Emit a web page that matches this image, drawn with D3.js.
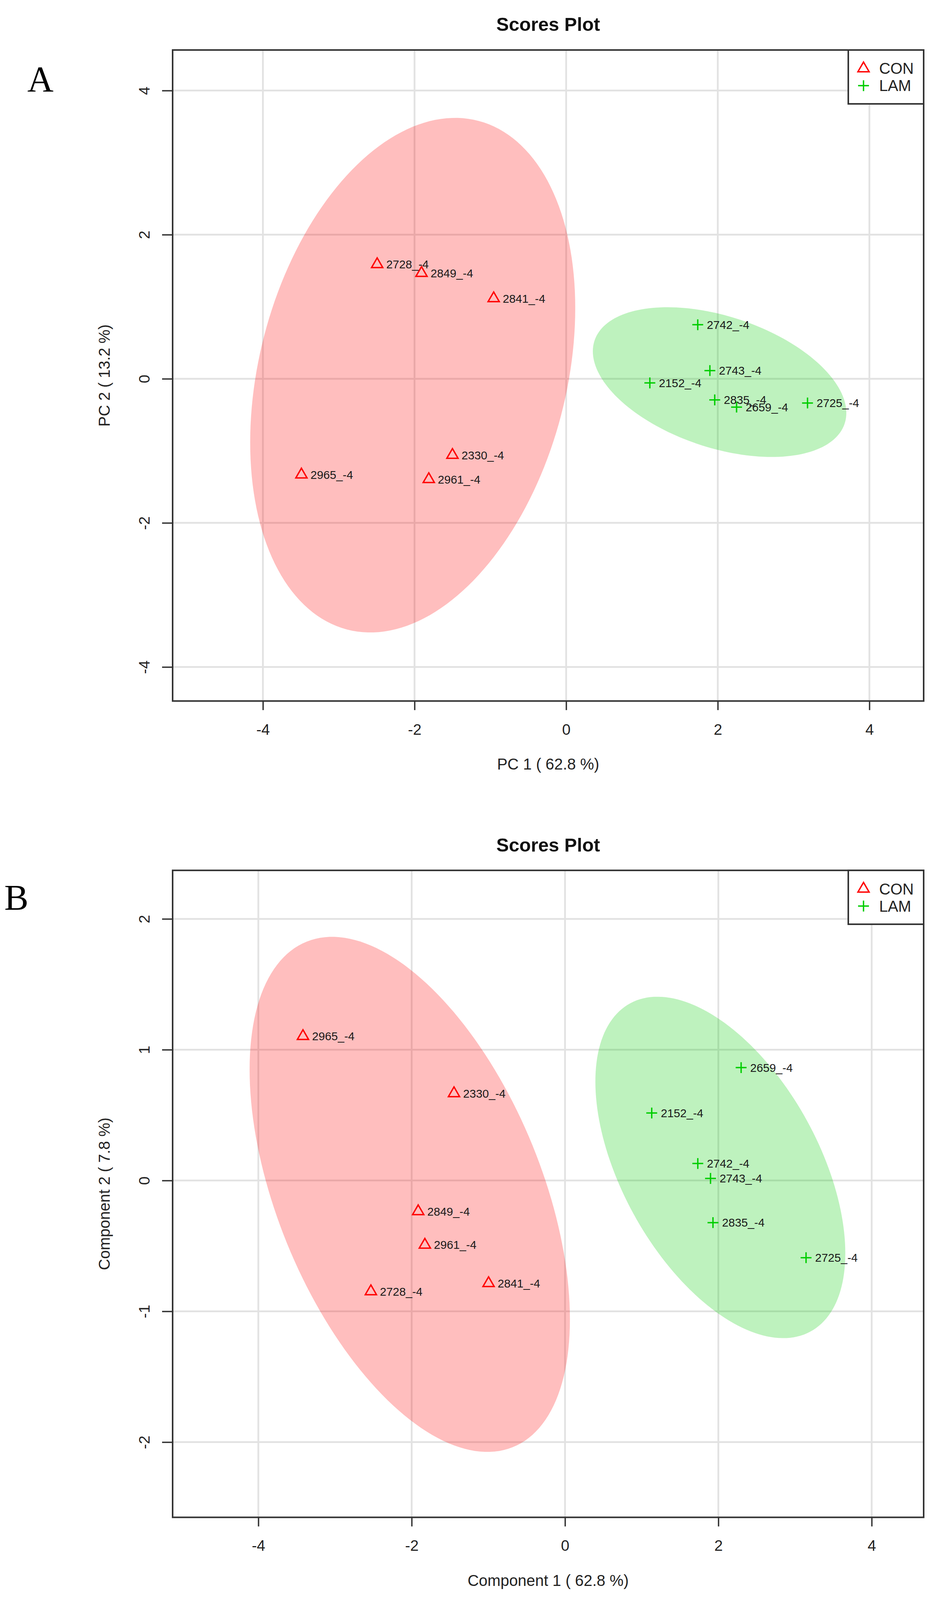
<!DOCTYPE html>
<html>
<head>
<meta charset="utf-8">
<script src="https://cdn.jsdelivr.net/npm/d3@7"></script>
<style>
  html, body { margin: 0; padding: 0; background: #fff; overflow: hidden; }
  svg { display: block; }
  text { font-family: "Liberation Sans", Arial, Helvetica, sans-serif; }
</style>
</head>
<body>
<svg id="chart"></svg>
<script>
// ---------------- DATA ----------------
const groups = ["CON", "LAM"];
const conLabels = ["2728_-4", "2849_-4", "2841_-4", "2330_-4", "2965_-4", "2961_-4"];
const lamLabels = ["2742_-4", "2743_-4", "2152_-4", "2835_-4", "2659_-4", "2725_-4"];

// Panel A: PCA scores
const pcaConX = [-2.493, -1.908, -0.956, -1.500, -3.492, -1.812];
const pcaConY = [1.588, 1.466, 1.115, -1.059, -1.331, -1.395];
const pcaLamX = [1.736, 1.896, 1.104, 1.960, 2.248, 3.184];
const pcaLamY = [0.750, 0.114, -0.057, -0.293, -0.393, -0.336];
// ellipse: [centerX, centerY, sdX, sdY, correlation]
const pcaConEllipse = [-2.024, 0.05, 2.144, 3.571, 0.261];
const pcaLamEllipse = [2.024, -0.046, 1.672, 1.039, -0.4116];

// Panel B: PLS-DA scores
const plsConX = [-2.532, -1.915, -0.997, -1.448, -3.418, -1.828];
const plsConY = [-0.848, -0.236, -0.786, 0.666, 1.103, -0.492];
const plsLamX = [1.732, 1.898, 1.131, 1.930, 2.297, 3.144];
const plsLamY = [0.130, 0.016, 0.516, -0.322, 0.863, -0.590];
const plsConEllipse = [-2.025, -0.106, 2.089, 1.969, -0.4848];
const plsLamEllipse = [2.026, 0.100, 1.630, 1.305, -0.503];

// Axes
const pcaXDomain = [-5.191, 4.716];
const pcaYDomain = [-4.472, 4.563];
const plsXDomain = [-5.118, 4.678];
const plsYDomain = [-2.575, 2.371];
const xTicks = [-4, -2, 0, 2, 4];
const pcaYTicks = [-4, -2, 0, 2, 4];
const plsYTicks = [-2, -1, 0, 1, 2];

// ---------------- LAYOUT (fit the 2435x4752 design into the actual viewport) ----------------
const W = window.innerWidth || 2435;
const H = window.innerHeight || 4752;
const SX = W / 2435, SY = H / 4752;
const FS = Math.sqrt(SX * SY);
const px = v => v * SX, py = v => v * SY, fs = v => v * FS;

// ---------------- STYLE ----------------
const colors = { CON: "#FF0000", LAM: "#00CD00" };
const fills = { CON: "rgba(255,0,0,0.255)", LAM: "rgba(0,205,0,0.255)" };
const axisColor = "#333333";
const gridColor = "#e2e2e2";

const svg = d3.select("#chart").attr("width", W).attr("height", H);
svg.append("rect").attr("width", W).attr("height", H).attr("fill", "#fff");

function trianglePath(R) {
  const top = 1.5551 * R, half = 1.3468 * R, bot = 0.7776 * R;
  return `M0,${-top}L${half},${bot}L${-half},${bot}Z`;
}
function plusPath(h) {
  return `M${-h},0L${h},0M0,${-h}L0,${h}`;
}
function ellipsePoints(e) {
  const [cx, cy, sx, sy, rho] = e;
  const k = Math.sqrt(1 - rho * rho);
  return d3.range(0, 361, 2).map(deg => {
    const t = deg * Math.PI / 180;
    return [cx + sx * Math.cos(t), cy + sy * (rho * Math.cos(t) + k * Math.sin(t))];
  });
}
const fmt = d => String(d);

function drawPanel(cfg) {
  const left = px(cfg.box.left), right = px(cfg.box.right);
  const top = py(cfg.box.top), bottom = py(cfg.box.bottom);
  const x = d3.scaleLinear().domain(cfg.xDomain).range([left, right]);
  const y = d3.scaleLinear().domain(cfg.yDomain).range([bottom, top]);
  const g = svg.append("g");

  // panel letter
  g.append("text")
    .attr("x", px(cfg.letterX)).attr("y", py(cfg.letterBaseline))
    .attr("font-size", fs(100)).attr("fill", "#000")
    .style("font-family", "'Liberation Serif', 'Times New Roman', serif")
    .text(cfg.letter);

  // title
  g.append("text")
    .attr("x", (left + right) / 2).attr("y", top - py(76))
    .attr("text-anchor", "middle").attr("dominant-baseline", "central")
    .attr("font-size", fs(52)).attr("font-weight", "bold").attr("fill", "#111")
    .text("Scores Plot");

  // grid
  const grid = g.append("g");
  grid.selectAll("line.gx").data(cfg.xTicks).join("line")
    .attr("x1", d => x(d)).attr("x2", d => x(d))
    .attr("y1", top).attr("y2", bottom)
    .attr("stroke", gridColor).attr("stroke-width", 4.5);
  grid.selectAll("line.gy").data(cfg.yTicks).join("line")
    .attr("x1", left).attr("x2", right)
    .attr("y1", d => y(d)).attr("y2", d => y(d))
    .attr("stroke", gridColor).attr("stroke-width", 4.5);

  // confidence ellipses
  const line = d3.line().x(d => x(d[0])).y(d => y(d[1])).curve(d3.curveLinearClosed);
  cfg.groups.forEach(gr => {
    g.append("path").attr("d", line(ellipsePoints(gr.ellipse)))
      .attr("fill", fills[gr.name]).attr("stroke", "none");
  });

  // points and sample labels
  cfg.groups.forEach(gr => {
    const pts = gr.labels.map((lab, i) => ({ lab, x: gr.xs[i], y: gr.ys[i] }));
    const pg = g.append("g");
    pg.selectAll("path").data(pts).join("path")
      .attr("transform", d => `translate(${x(d.x)},${y(d.y)})`)
      .attr("d", gr.name === "CON" ? trianglePath(fs(11.5)) : plusPath(fs(15)))
      .attr("fill", "none").attr("stroke", colors[gr.name])
      .attr("stroke-width", 3.5);
    pg.selectAll("text").data(pts).join("text")
      .attr("x", d => x(d.x) + fs(25)).attr("y", d => y(d.y))
      .attr("dominant-baseline", "central")
      .attr("font-size", fs(32)).attr("fill", "#1a1a1a")
      .text(d => d.lab);
  });

  // axes
  const xAxis = g.append("g").attr("transform", `translate(0,${bottom})`)
    .call(d3.axisBottom(x).tickValues(cfg.xTicks).tickSize(py(27)).tickSizeOuter(0).tickFormat(fmt));
  xAxis.select(".domain").remove();
  xAxis.selectAll(".tick line").attr("stroke", axisColor).attr("stroke-width", 3.5);
  xAxis.selectAll(".tick text").attr("y", py(84)).attr("dy", "0.35em")
    .attr("font-size", fs(42)).attr("fill", "#222")
    .style("font-family", "'Liberation Sans', Arial, sans-serif");

  const yAxis = g.append("g").attr("transform", `translate(${left},0)`)
    .call(d3.axisLeft(y).tickValues(cfg.yTicks).tickSize(px(27)).tickSizeOuter(0).tickFormat(fmt));
  yAxis.select(".domain").remove();
  yAxis.selectAll(".tick line").attr("stroke", axisColor).attr("stroke-width", 3.5);
  yAxis.selectAll(".tick text")
    .attr("x", 0).attr("y", 0).attr("dy", "0.35em")
    .attr("text-anchor", "middle")
    .attr("transform", `translate(${-px(72.5)},0) rotate(-90)`)
    .attr("font-size", fs(42)).attr("fill", "#222")
    .style("font-family", "'Liberation Sans', Arial, sans-serif");

  // axis titles
  g.append("text")
    .attr("x", (left + right) / 2).attr("y", bottom + py(187))
    .attr("text-anchor", "middle").attr("dominant-baseline", "central")
    .attr("font-size", fs(43)).attr("fill", "#222")
    .text(cfg.xTitle);
  g.append("text")
    .attr("transform", `translate(${left - px(175)},${(top + bottom) / 2}) rotate(-90)`)
    .attr("text-anchor", "middle").attr("dominant-baseline", "central")
    .attr("font-size", fs(43)).attr("fill", "#222")
    .text(cfg.yTitle);

  // plot frame
  g.append("rect")
    .attr("x", left).attr("y", top)
    .attr("width", right - left).attr("height", bottom - top)
    .attr("fill", "none").attr("stroke", axisColor).attr("stroke-width", 4);

  // legend (top-right, inside)
  const lw = px(193), lh = py(160);
  const lx = right - lw, ly = top;
  const lg = g.append("g");
  lg.append("rect").attr("x", lx).attr("y", ly).attr("width", lw).attr("height", lh)
    .attr("fill", "#fff").attr("stroke", axisColor).attr("stroke-width", 4);
  groups.forEach((name, i) => {
    const cy = ly + py(55 + i * 51);
    lg.append("path")
      .attr("transform", `translate(${lx + px(39)},${cy})`)
      .attr("d", name === "CON" ? trianglePath(fs(11.5)) : plusPath(fs(15)))
      .attr("fill", "none").attr("stroke", colors[name]).attr("stroke-width", 3.5);
    lg.append("text")
      .attr("x", lx + px(79)).attr("y", cy)
      .attr("dominant-baseline", "central")
      .attr("font-size", fs(43)).attr("fill", "#222")
      .text(name);
  });
}

drawPanel({
  letter: "A", letterX: 70, letterBaseline: 271,
  box: { left: 442, top: 148.5, right: 2365, bottom: 2082 },
  xDomain: pcaXDomain, yDomain: pcaYDomain,
  xTicks: xTicks, yTicks: pcaYTicks,
  xTitle: "PC 1 ( 62.8 %)", yTitle: "PC 2 ( 13.2 %)",
  groups: [
    { name: "CON", labels: conLabels, xs: pcaConX, ys: pcaConY, ellipse: pcaConEllipse },
    { name: "LAM", labels: lamLabels, xs: pcaLamX, ys: pcaLamY, ellipse: pcaLamEllipse }
  ]
});

drawPanel({
  letter: "B", letterX: 11, letterBaseline: 2702,
  box: { left: 442, top: 2585, right: 2365, bottom: 4506.5 },
  xDomain: plsXDomain, yDomain: plsYDomain,
  xTicks: xTicks, yTicks: plsYTicks,
  xTitle: "Component 1 ( 62.8 %)", yTitle: "Component 2 ( 7.8 %)",
  groups: [
    { name: "CON", labels: conLabels, xs: plsConX, ys: plsConY, ellipse: plsConEllipse },
    { name: "LAM", labels: lamLabels, xs: plsLamX, ys: plsLamY, ellipse: plsLamEllipse }
  ]
});
</script>
</body>
</html>
